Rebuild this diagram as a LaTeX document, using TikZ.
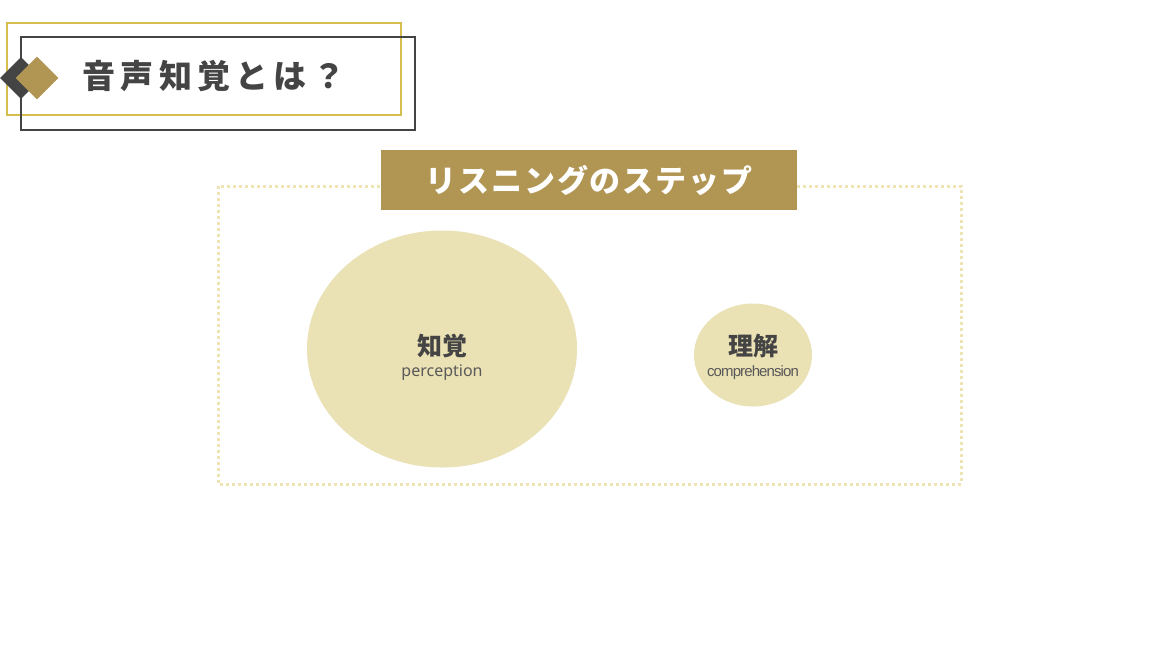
\documentclass[tikz,border=0pt]{standalone}
\usepackage{fontspec}
\newfontfamily\jp{Noto Sans CJK JP}
\newfontfamily\jptitle[LetterSpace=16]{Noto Sans CJK JP}
\newfontfamily\jpban[LetterSpace=6]{Noto Sans CJK JP}
\newfontfamily\lat{Noto Sans}
\newfontfamily\latn[LetterSpace=-6]{Liberation Sans}
\definecolor{gold}{HTML}{B09553}
\definecolor{goldline}{HTML}{D6BE4E}
\definecolor{darkg}{HTML}{444444}
\definecolor{pale}{HTML}{EAE1B4}
\definecolor{dotc}{HTML}{EEE4B6}
\definecolor{txt}{HTML}{444444}
\definecolor{sub}{HTML}{595959}
\tikzset{
  blob/.style={ellipse, fill=pale, draw=none, inner sep=0pt},
  dia/.style={diamond, draw=none, inner sep=0pt, minimum width=#1, minimum height=#1},
}
\usetikzlibrary{shapes.geometric}
\begin{document}
\begin{tikzpicture}[x=1pt,y=-1pt]
\useasboundingbox (0,0) rectangle (1150,648);
% header
\draw[goldline, line width=1.6pt] (7,23) rectangle (401,115);
\draw[darkg, line width=1.6pt] (21,37) rectangle (415,130);
\node[dia=42, fill=darkg] (d1) at (21,78) {};
\node[dia=43, fill=gold] (d2) at (37,78) {};
\node[anchor=west, text=txt, font={\jptitle\bfseries\fontsize{33}{36}\selectfont}] (title) at (79,76) {音声知覚とは？};
% dotted frame
\draw[dotc, line width=3pt, dash pattern=on 3pt off 3pt] (218,186) rectangle (961,484);
% banner
\node[fill=gold, minimum width=416pt, minimum height=60pt, inner sep=0pt, text=white,
      font={\jpban\bfseries\fontsize{31}{34}\selectfont}] (ban) at (589,180) {リスニングのステップ};
% ellipses
\node[blob, minimum width=270pt, minimum height=237pt] (e1) at (442,349) {};
\node[blob, minimum width=118pt, minimum height=103pt] (e2) at (753,355) {};
\node[text=txt, font={\jp\bfseries\fontsize{25}{28}\selectfont}] (t1) at (442,346) {知覚};
\node[text=sub, font={\lat\fontsize{16}{18}\selectfont}] (s1) at (442,373) {perception};
\node[text=txt, font={\jp\bfseries\fontsize{25}{28}\selectfont}] (t2) at (753,346) {理解};
\node[text=sub, font={\latn\fontsize{15}{17}\selectfont}] (s2) at (753,373) {comprehension};
\end{tikzpicture}
\end{document}
